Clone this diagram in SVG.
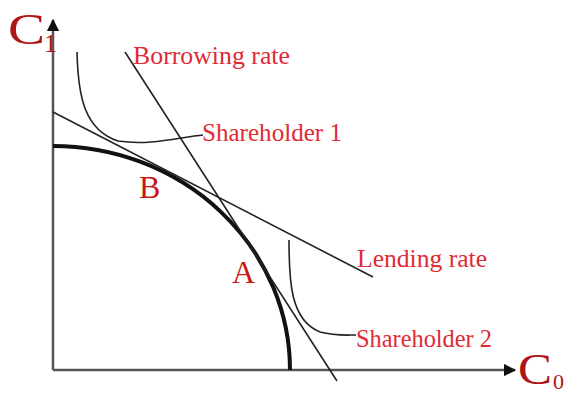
<svg xmlns="http://www.w3.org/2000/svg" width="566" height="394" viewBox="0 0 566 394">
  <defs>
    <style>
      .lbl { font-family: "Liberation Serif", "Times New Roman", serif; fill: #e02a36; font-size: 25px; }
      .pt { font-family: "Liberation Serif", "Times New Roman", serif; fill: #c81818; font-size: 32px; }
      .ax { font-family: "Liberation Serif", "Times New Roman", serif; fill: #b01414; }
      .axis { stroke: #555; stroke-width: 2.5; fill: none; }
      .thin { stroke: #222; stroke-width: 1.6; fill: none; }
      .thick { stroke: #111; stroke-width: 4; fill: none; }
    </style>
    <marker id="arr" viewBox="0 0 10 10" refX="9" refY="5" markerWidth="5" markerHeight="5" orient="auto" markerUnits="strokeWidth">
      <path d="M0,0 L10,5 L0,10 Z" fill="#111"/>
    </marker>
  </defs>
  <rect width="566" height="394" fill="#fff"/>
  <g id="axes">
    <path class="axis" d="M53,370 L53,20" marker-end="url(#arr)"/>
    <path class="axis" d="M53,370 L515,370" marker-end="url(#arr)"/>
    <text class="ax" x="8" y="44" font-size="44" textLength="37" lengthAdjust="spacingAndGlyphs">C</text>
    <text class="ax" x="44" y="52" font-size="26">1</text>
    <text class="ax" x="518" y="384" font-size="44" textLength="34" lengthAdjust="spacingAndGlyphs">C</text>
    <text class="ax" x="553" y="389" font-size="22">0</text>
  </g>
  <g id="frontier">
    <path class="thick" d="M53,146 A237,224 0 0 1 290,370"/>
  </g>
  <g id="connectors">
    <path class="thin" d="M53,112 L373,277"/>
    <path class="thin" d="M125,52 L337,381"/>
    <path class="thin" d="M77,52 C78,95 84,130 118,141 C150,146 180,137 203,135"/>
    <path class="thin" d="M289,240 C289,280 290,320 320,332 C335,336 345,335 356,335"/>
  </g>
  <g id="labels">
    <text class="lbl" x="133" y="64" textLength="157" lengthAdjust="spacingAndGlyphs">Borrowing rate</text>
    <text class="lbl" x="202" y="141" textLength="140" lengthAdjust="spacingAndGlyphs">Shareholder 1</text>
    <text class="lbl" x="357" y="267" textLength="130" lengthAdjust="spacingAndGlyphs">Lending rate</text>
    <text class="lbl" x="356" y="347" textLength="136" lengthAdjust="spacingAndGlyphs">Shareholder 2</text>
    <text class="pt" x="139" y="198">B</text>
    <text class="pt" x="232" y="283">A</text>
  </g>
</svg>
